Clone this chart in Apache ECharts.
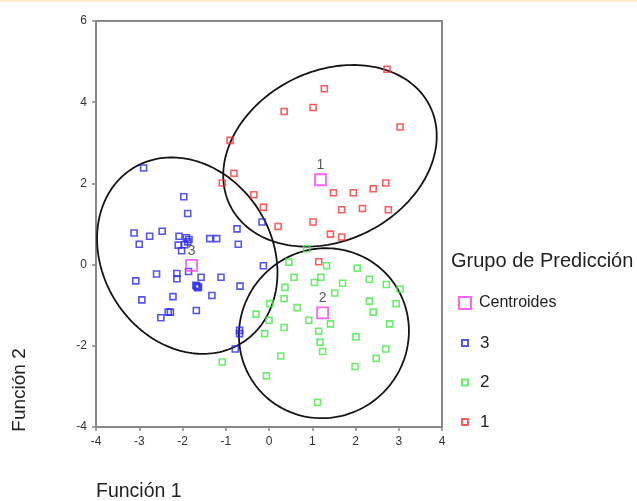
<!DOCTYPE html>
<html>
<head>
<meta charset="utf-8">
<script src="https://cdn.jsdelivr.net/npm/echarts@6/dist/echarts.min.js"></script>
<style>html,body{margin:0;padding:0;background:#fff;}#c{width:637px;height:501px;}</style>
</head>
<body>
<div id="c"></div>
<script>
var xTicks = [-4, 4, 1];
var yTicks = [-4, 6, 2];
var group1 = [[2.73,4.81],[1.28,4.33],[0.35,3.77],[1.02,3.87],[3.03,3.39],[-0.90,3.06],[-0.81,2.25],[-1.08,2.01],[-0.35,1.72],[-0.13,1.41],[0.21,0.94],[1.02,1.05],[1.42,0.75],[1.68,0.68],[1.49,1.77],[1.95,1.77],[2.41,1.87],[2.70,2.01],[1.68,1.35],[2.16,1.38],[2.76,1.35],[1.15,0.07]];
var group2 = [[0.87,0.39],[0.46,0.06],[1.33,-0.03],[2.04,-0.09],[0.58,-0.31],[1.20,-0.31],[1.05,-0.44],[2.32,-0.36],[1.70,-0.46],[2.71,-0.49],[3.03,-0.60],[0.37,-0.56],[1.52,-0.70],[0.35,-0.84],[0.02,-0.96],[2.32,-0.90],[2.94,-0.96],[0.65,-1.06],[2.41,-1.17],[-0.30,-1.22],[0.00,-1.37],[0.92,-1.37],[1.42,-1.46],[2.79,-1.46],[0.35,-1.55],[1.15,-1.64],[-0.10,-1.70],[2.01,-1.78],[1.18,-1.91],[1.24,-2.14],[2.70,-2.08],[2.48,-2.31],[0.27,-2.25],[1.99,-2.51],[-1.08,-2.40],[-0.06,-2.74],[1.12,-3.39]];
var group3 = [[-2.90,2.38],[-1.97,1.67],[-1.88,1.26],[-3.12,0.78],[-2.76,0.70],[-2.47,0.82],[-3.00,0.50],[-2.08,0.70],[-1.91,0.66],[-1.85,0.62],[-1.88,0.56],[-2.10,0.48],[-1.95,0.49],[-2.02,0.34],[-1.37,0.64],[-1.21,0.64],[-0.74,0.88],[-0.71,0.50],[-0.16,1.05],[-0.13,-0.03],[-3.08,-0.40],[-2.60,-0.23],[-2.13,-0.22],[-2.13,-0.35],[-1.86,-0.17],[-1.57,-0.31],[-1.11,-0.31],[-0.67,-0.53],[-1.69,-0.51],[-1.65,-0.57],[-1.67,-0.53],[-1.63,-0.55],[-2.94,-0.87],[-2.22,-0.79],[-1.32,-0.76],[-2.50,-1.31],[-2.33,-1.17],[-2.28,-1.17],[-1.68,-1.13],[-0.68,-1.62],[-0.68,-1.70],[-0.78,-2.08]];
var centroids = [[1.19,2.09],[1.24,-1.19],[-1.79,-0.02]];
var centroidLabels = ['1','2','3'];
// ellipse: centre x, centre y, semi-axis a, semi-axis b (x-axis units), angle (deg)
var ellipses = [[1.41,2.68,2.58,1.96,26.6],[1.27,-1.69,1.99,1.94,45],[-1.89,0.22,2.38,1.96,121.9]];
var groupNames = ['1','2','3'];
var groupColors = ['#ff3333','#44ec44','#2a2af0'];
var centroidColor = '#ff3cff';

var chart = echarts.init(document.getElementById('c'));
var font = 'Liberation Sans, Arial, sans-serif';
function scatter(name, data, color){
  return {
    type:'scatter', name:name, data:data, symbol:'rect', symbolSize:6,
    itemStyle:{color:'rgba(255,255,255,0)', borderColor:color, borderWidth:1.6},
    emphasis:{disabled:true}, z:3
  };
}
var option = {
  animation:false,
  backgroundColor:'#fff',
  grid:{left:96, right:195, top:21, bottom:74, show:true, borderColor:'#888', borderWidth:2, backgroundColor:'#fff'},
  xAxis:{type:'value', min:xTicks[0], max:xTicks[1], interval:xTicks[2], splitLine:{show:false},
    axisLine:{onZero:false, lineStyle:{color:'#888', width:2}},
    axisTick:{show:true, length:4, lineStyle:{color:'#888', width:1.5}},
    axisLabel:{color:'#333', fontSize:12, fontFamily:font, margin:9}},
  yAxis:{type:'value', min:yTicks[0], max:yTicks[1], interval:yTicks[2], splitLine:{show:false},
    axisLine:{onZero:false, lineStyle:{color:'#888', width:2}},
    axisTick:{show:true, length:4, lineStyle:{color:'#888', width:1.5}},
    axisLabel:{color:'#333', fontSize:12, fontFamily:font, margin:9}},
  legend:[
    {data:['Centroides'], left:458, top:295, padding:0, itemWidth:12, itemHeight:12, selectedMode:false,
      textStyle:{fontSize:16, fontFamily:font, color:'#222', padding:[2,0,0,3]}},
    {data:['3','2','1'], orient:'vertical', left:461, top:333, padding:0, itemWidth:6, itemHeight:6, itemGap:19.5, selectedMode:false,
      textStyle:{fontSize:17, lineHeight:17, fontFamily:font, color:'#222', padding:[3,0,0,7]}}
  ],
  graphic:[
    {type:'rect', left:0, top:0, shape:{width:637, height:2}, style:{fill:'#fde9c6'}},
    {type:'text', left:451, top:251, style:{text:'Grupo de Predicción', font:'20px '+font, fill:'#222'}},
    {type:'text', left:96, top:482, style:{text:'Función 1', font:'19.5px '+font, fill:'#222'}},
    {type:'text', x:20, y:390, rotation:Math.PI/2, style:{text:'Función 2', font:'19px '+font, fill:'#222', align:'center', verticalAlign:'middle'}}
  ],
  series:[
    {type:'custom', name:'elipses', data:ellipses, z:2, silent:true,
      renderItem:function(params, api){
        var c = api.coord([api.value(0), api.value(1)]);
        var s = api.size([1,1])[0];
        var a = api.value(2)*s, b = api.value(3)*s, phi = api.value(4)*Math.PI/180;
        var pts = [];
        for (var i=0;i<180;i++){
          var t = i/180*2*Math.PI;
          var dx = a*Math.cos(t)*Math.cos(phi) - b*Math.sin(t)*Math.sin(phi);
          var dy = a*Math.cos(t)*Math.sin(phi) + b*Math.sin(t)*Math.cos(phi);
          pts.push([c[0]+dx, c[1]-dy]);
        }
        return {type:'polygon', shape:{points:pts}, style:{fill:null, stroke:'#141414', lineWidth:1.8}};
      }},
    scatter(groupNames[0], group1, groupColors[0]),
    scatter(groupNames[1], group2, groupColors[1]),
    scatter(groupNames[2], group3, groupColors[2]),
    {type:'scatter', name:'Centroides', symbol:'rect', symbolSize:11, z:4,
      data:centroids.map(function(p,i){return {value:p, name:centroidLabels[i]};}),
      itemStyle:{color:'rgba(255,255,255,0)', borderColor:centroidColor, borderWidth:1.8},
      label:{show:true, position:'top', distance:1, formatter:'{b}', fontSize:14, fontFamily:font, color:'#333'},
      emphasis:{disabled:true}}
  ]
};
chart.setOption(option);
</script>
</body>
</html>
